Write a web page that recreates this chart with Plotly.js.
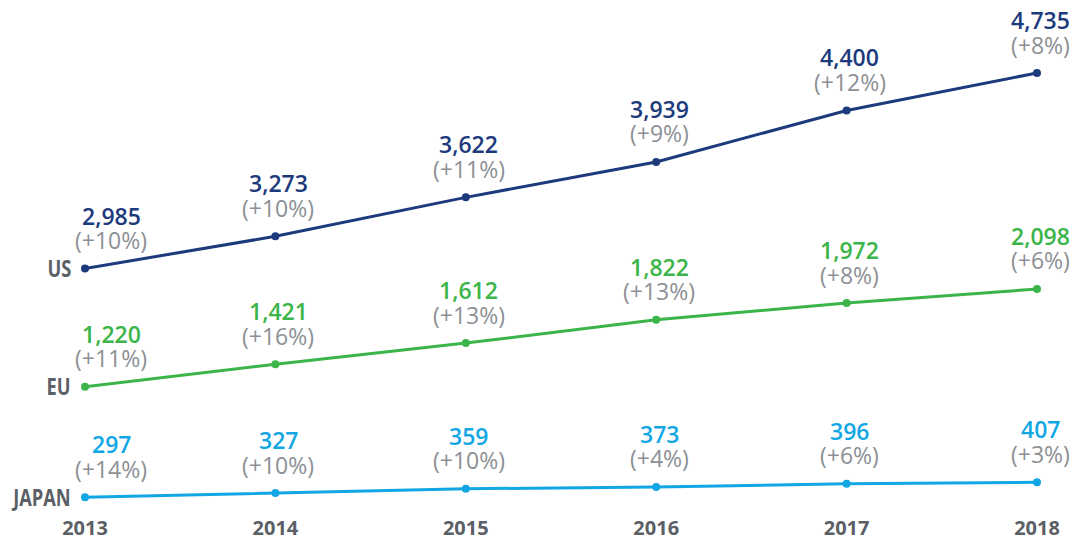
<!DOCTYPE html>
<html>
<head>
<meta charset="utf-8">
<script src="https://cdn.plot.ly/plotly-3.0.1.min.js"></script>
<style>
  html, body { margin: 0; padding: 0; background: #ffffff; }
  #chart { width: 1074px; height: 540px; }
</style>
</head>
<body>
<div id="chart"></div>
<script>
// ---- data ----
const years = [2013, 2014, 2015, 2016, 2017, 2018];
const yearLabels = ['2013', '2014', '2015', '2016', '2017', '2018'];
const seriesNames = ['US', 'EU', 'JAPAN'];
const usValues = [2985, 3273, 3622, 3939, 4400, 4735];
const usGrowth = ['+10%', '+10%', '+11%', '+9%', '+12%', '+8%'];
const euValues = [1220, 1421, 1612, 1822, 1972, 2098];
const euGrowth = ['+11%', '+16%', '+13%', '+13%', '+8%', '+6%'];
const japanValues = [297, 327, 359, 373, 396, 407];
const japanGrowth = ['+14%', '+10%', '+10%', '+4%', '+6%', '+3%'];

// ---- styles ----
const colors = ['#1c3a7c', '#3bb54a', '#12a7e4'];
const gray = '#8c9095';
const labelGray = '#5b5f66';
const axes = ['y', 'y2', 'y3'];
const seriesValues = [usValues, euValues, japanValues];
const seriesGrowth = [usGrowth, euGrowth, japanGrowth];

const traces = seriesValues.map((vals, s) => ({
  type: 'scatter',
  mode: 'lines+markers',
  x: years,
  y: vals,
  yaxis: axes[s],
  name: seriesNames[s],
  line: { color: colors[s], width: 3 },
  marker: { color: colors[s], size: 8 },
  cliponaxis: false,
  hoverinfo: 'skip',
  showlegend: false
}));

const annotations = [];
seriesValues.forEach((vals, s) => {
  vals.forEach((v, i) => {
    const xs = i === 0 ? 26 : 3;
    annotations.push({
      x: years[i], y: v, xref: 'x', yref: axes[s],
      text: v.toLocaleString('en-US'),
      showarrow: false, xanchor: 'center', yanchor: 'middle',
      xshift: xs, yshift: 53,
      font: { family: 'Open Sans, sans-serif', size: 23, color: colors[s], weight: 600 }
    });
    annotations.push({
      x: years[i], y: v, xref: 'x', yref: axes[s],
      text: '(' + seriesGrowth[s][i] + ')',
      showarrow: false, xanchor: 'center', yanchor: 'middle',
      xshift: xs, yshift: 28.5,
      font: { family: 'Open Sans, sans-serif', size: 23, color: gray, weight: 400 }
    });
  });
  annotations.push({
    x: years[0], y: vals[0], xref: 'x', yref: axes[s],
    text: seriesNames[s],
    showarrow: false, xanchor: 'right', yanchor: 'middle',
    xshift: -12, yshift: 1,
    font: { family: 'Open Sans, sans-serif', size: 24, color: labelGray, weight: 700 }
  });
});

const hiddenY = {
  showgrid: false, zeroline: false, showticklabels: false, showline: false, ticks: ''
};

const layout = {
  width: 1074,
  height: 540,
  margin: { l: 85, r: 37, t: 20, b: 40 },
  paper_bgcolor: '#ffffff',
  plot_bgcolor: '#ffffff',
  showlegend: false,
  xaxis: {
    range: [2013, 2018],
    tickvals: years,
    ticktext: yearLabels,
    showgrid: false, zeroline: false, showline: false, ticks: '',
    ticklabelstandoff: 14,
    tickfont: { family: 'Open Sans, sans-serif', size: 20, color: labelGray, weight: 700 },
    fixedrange: true
  },
  yaxis: Object.assign({ range: [912.5, 5209.7] }, hiddenY),
  yaxis2: Object.assign({ range: [202, 4514.7], overlaying: 'y' }, hiddenY),
  yaxis3: Object.assign({ range: [275.7, 3847.2], overlaying: 'y' }, hiddenY),
  annotations: annotations
};

Plotly.newPlot('chart', traces, layout, { displayModeBar: false, staticPlot: true }).then(() => {
  // condense the series name labels (the reference uses a condensed bold face)
  const squeeze = 0.76;
  document.querySelectorAll('#chart .annotation-text').forEach(el => {
    if (seriesNames.indexOf(el.textContent) < 0) return;
    const w = el.getComputedTextLength();
    const target = w * squeeze;
    el.setAttribute('textLength', target.toFixed(2));
    el.setAttribute('lengthAdjust', 'spacingAndGlyphs');
    const x0 = parseFloat(el.getAttribute('x')) || 0;
    el.setAttribute('x', (x0 + (w - target) / 2).toFixed(2));
  });
});
</script>
</body>
</html>
